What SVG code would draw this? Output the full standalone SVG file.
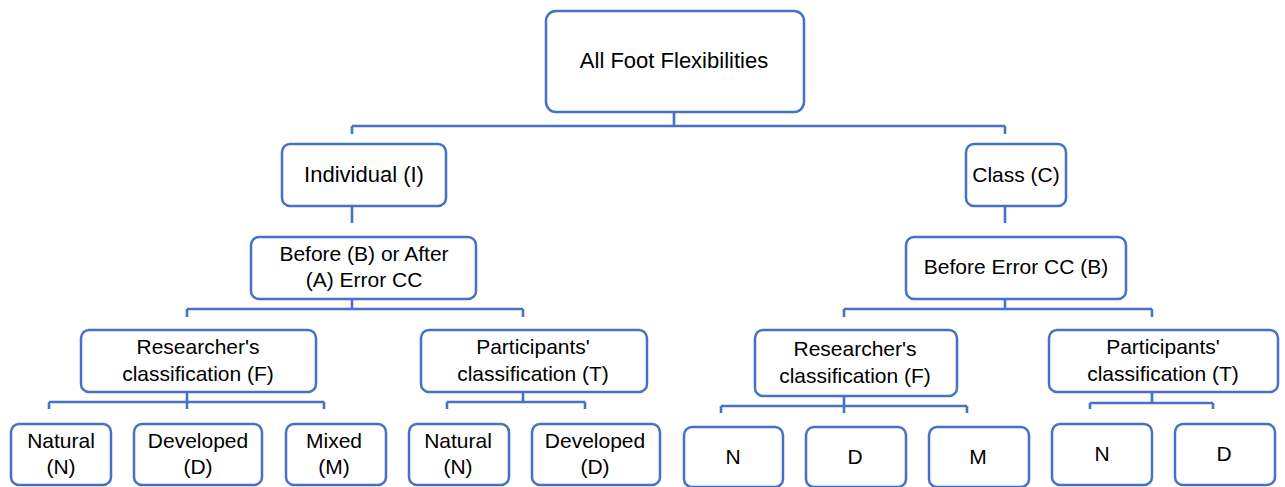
<svg xmlns="http://www.w3.org/2000/svg" width="1285" height="487" viewBox="0 0 1285 487">
<style>
.box{fill:#ffffff;stroke:#4472C4;stroke-width:2.5}
.t{font-family:"Liberation Sans",Arial,sans-serif;font-size:21px;fill:#000;text-anchor:middle}
.l{font-size:22px}
.c{fill:none;stroke:#4472C4;stroke-width:2.6}
.s{fill:none;stroke:#d3def3;stroke-width:2.4}
</style>
<rect width="1285" height="487" fill="#ffffff"/>
<g id="connectors">
<path class="s" d="M674 100V112M352 196V206M1005 196V206M352 290V299M1005 290V299M187 384V392M523 384V392M844 387V396M1152 384V392"/>
<path class="c" d="M674 112V126M352 126H1005M352 126V134M1005 126V134"/>
<path class="c" d="M352 206V223M1005 206V223"/>
<path class="c" d="M352 299V309M187 309H523M187 309V317M523 309V317"/>
<path class="c" d="M1005 299V309M844 309H1152M844 309V317M1152 309V317"/>
<path class="c" d="M187 392V402M49 402H324M49 402V409M187 402V409M324 402V409"/>
<path class="c" d="M523 392V402M447 402H585M447 402V409M585 402V409"/>
<path class="c" d="M844 396V406M721 406H967M721 406V413M844 406V413M967 406V413"/>
<path class="c" d="M1152 392V403M1090 403H1213M1090 403V409M1213 403V409"/>
</g>
<g id="root"><rect class="box" x="546" y="11" width="258" height="101" rx="10"/><text class="t l" x="674" y="68">All Foot Flexibilities</text></g>
<g id="individual"><rect class="box" x="282" y="144" width="164" height="62" rx="8"/><text class="t l" x="364" y="182">Individual (I)</text></g>
<g id="class"><rect class="box" x="966" y="144" width="100" height="62" rx="8"/><text class="t" x="1016" y="182">Class (C)</text></g>
<g id="before-after"><rect class="box" x="251" y="237" width="225" height="62" rx="8"/><text class="t" x="364" y="261">Before (B) or After</text><text class="t" x="364" y="287">(A) Error CC</text></g>
<g id="before-error"><rect class="box" x="906" y="237" width="220" height="62" rx="8"/><text class="t" x="1016" y="274">Before Error CC (B)</text></g>
<g id="researcher-i"><rect class="box" x="81" y="330" width="235" height="62" rx="8"/><text class="t" x="198" y="354">Researcher's</text><text class="t" x="198" y="381">classification (F)</text></g>
<g id="participants-i"><rect class="box" x="421" y="330" width="226" height="62" rx="8"/><text class="t" x="533" y="354">Participants'</text><text class="t" x="533" y="381">classification (T)</text></g>
<g id="researcher-c"><rect class="box" x="755" y="330" width="202" height="66" rx="8"/><text class="t" x="855" y="356">Researcher's</text><text class="t" x="855" y="383">classification (F)</text></g>
<g id="participants-c"><rect class="box" x="1049" y="330" width="229" height="62" rx="8"/><text class="t" x="1163" y="354">Participants'</text><text class="t" x="1163" y="381">classification (T)</text></g>
<g id="natural-i"><rect class="box" x="11" y="424" width="100" height="61" rx="8"/><text class="t" x="61" y="448">Natural</text><text class="t" x="61" y="474">(N)</text></g>
<g id="developed-i"><rect class="box" x="134" y="424" width="128" height="61" rx="8"/><text class="t" x="198" y="448">Developed</text><text class="t" x="198" y="474">(D)</text></g>
<g id="mixed-i"><rect class="box" x="286" y="424" width="100" height="61" rx="8"/><text class="t" x="334" y="448">Mixed</text><text class="t" x="334" y="474">(M)</text></g>
<g id="natural-i2"><rect class="box" x="409" y="424" width="100" height="61" rx="8"/><text class="t" x="458" y="448">Natural</text><text class="t" x="458" y="474">(N)</text></g>
<g id="developed-i2"><rect class="box" x="532" y="424" width="128" height="61" rx="8"/><text class="t" x="595" y="448">Developed</text><text class="t" x="595" y="474">(D)</text></g>
<g id="n-c"><rect class="box" x="684" y="427" width="99" height="60" rx="8"/><text class="t" x="733" y="464">N</text></g>
<g id="d-c"><rect class="box" x="806" y="427" width="100" height="60" rx="8"/><text class="t" x="855" y="464">D</text></g>
<g id="m-c"><rect class="box" x="929" y="427" width="100" height="60" rx="8"/><text class="t" x="978" y="464">M</text></g>
<g id="n-c2"><rect class="box" x="1052" y="424" width="100" height="61" rx="8"/><text class="t" x="1102" y="461">N</text></g>
<g id="d-c2"><rect class="box" x="1175" y="424" width="100" height="61" rx="8"/><text class="t" x="1224" y="461">D</text></g>
</svg>
